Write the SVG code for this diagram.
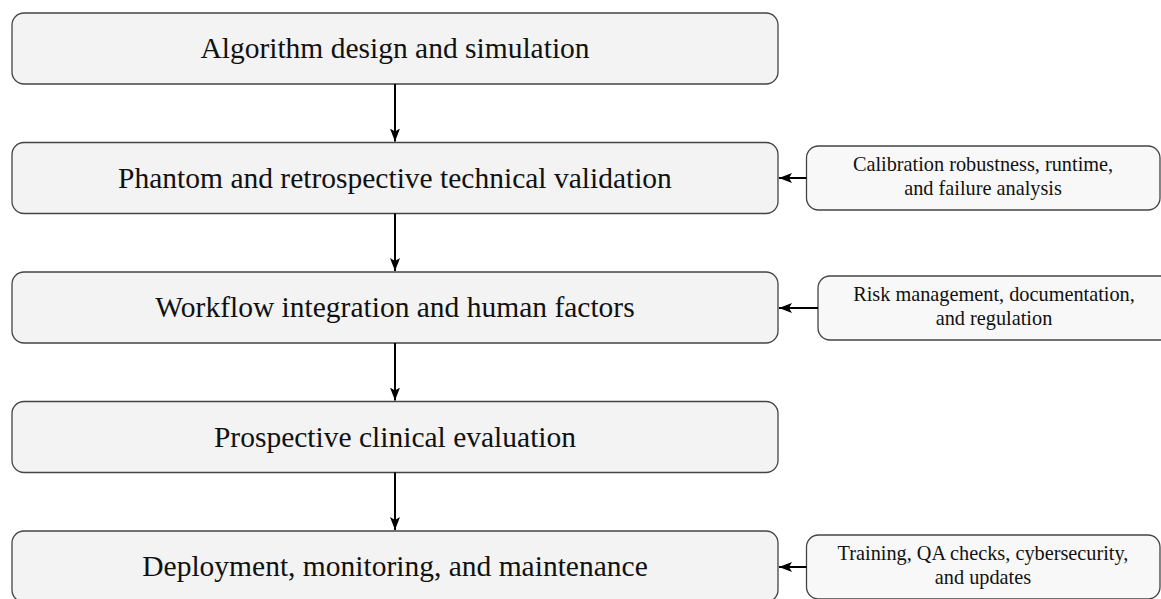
<svg xmlns="http://www.w3.org/2000/svg" width="1161" height="599" viewBox="0 0 1161 599">
<defs>
<marker id="ah" viewBox="0 0 13 10" refX="13" refY="5" markerWidth="13" markerHeight="10" markerUnits="userSpaceOnUse" orient="auto">
<path d="M0,0 L13,5 L0,10 L3,5 z" fill="#000"/>
</marker>
<style>
.main rect{fill:#f3f3f3;stroke:#444;stroke-width:1.3}
.side rect{fill:#f8f8f8;stroke:#444;stroke-width:1.3}
.main text{font-family:"Liberation Serif","DejaVu Serif",serif;font-size:29.5px;fill:#111;text-anchor:middle}
.side text{font-family:"Liberation Serif","DejaVu Serif",serif;font-size:20.3px;fill:#111;text-anchor:middle}
.conn line{stroke:#000;stroke-width:2;marker-end:url(#ah)}
</style>
</defs>
<rect width="1161" height="599" fill="#fff"/>
<g id="n1" class="main"><rect x="12" y="13" width="766" height="71" rx="12"/><text x="395" y="58">Algorithm design and simulation</text></g>
<g id="n2" class="main"><rect x="12" y="142.5" width="766" height="71" rx="12"/><text x="395" y="187.5">Phantom and retrospective technical validation</text></g>
<g id="n3" class="main"><rect x="12" y="272" width="766" height="71" rx="12"/><text x="395" y="317">Workflow integration and human factors</text></g>
<g id="n4" class="main"><rect x="12" y="401.5" width="766" height="71" rx="12"/><text x="395" y="446.5">Prospective clinical evaluation</text></g>
<g id="n5" class="main"><rect x="12" y="531" width="766" height="71" rx="12"/><text x="395" y="576">Deployment, monitoring, and maintenance</text></g>
<g id="s1" class="side"><rect x="806.5" y="146" width="353.5" height="64" rx="12"/><text x="983" y="171">Calibration robustness, runtime,</text><text x="983" y="194.5">and failure analysis</text></g>
<g id="s2" class="side"><rect x="818" y="276" width="360" height="64" rx="12"/><text x="994" y="301">Risk management, documentation,</text><text x="994" y="324.5">and regulation</text></g>
<g id="s3" class="side"><rect x="806.5" y="535" width="353.5" height="64" rx="12"/><text x="983" y="560">Training, QA checks, cybersecurity,</text><text x="983" y="583.5">and updates</text></g>
<g id="connectors" class="conn">
<line x1="395" y1="84" x2="395" y2="141.5"/>
<line x1="395" y1="213.5" x2="395" y2="271"/>
<line x1="395" y1="343" x2="395" y2="400.5"/>
<line x1="395" y1="472.5" x2="395" y2="530"/>
<line x1="806.5" y1="178" x2="779" y2="178"/>
<line x1="818" y1="308" x2="779" y2="308"/>
<line x1="806.5" y1="567" x2="779" y2="567"/>
</g>
</svg>
